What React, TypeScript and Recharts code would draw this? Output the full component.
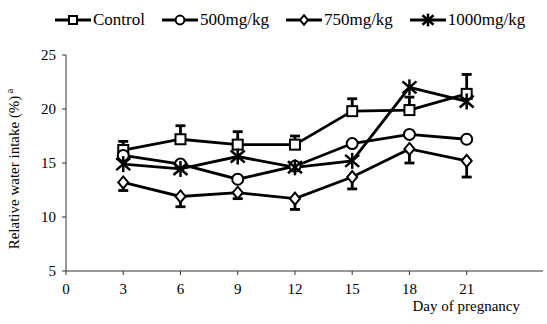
import React from 'react';
import { LineChart, Line, XAxis, YAxis, ErrorBar, Legend } from 'recharts';

const days = [3, 6, 9, 12, 15, 18, 21];
const control = [16.2, 17.2, 16.7, 16.7, 19.8, 19.9, 21.4];
const controlErr = [0.8, 1.25, 1.2, 0.8, 1.15, 1.2, 1.8];
const dose500 = [15.7, 14.9, 13.5, 14.7, 16.8, 17.65, 17.2];
const dose750 = [13.2, 11.9, 12.25, 11.7, 13.7, 16.3, 15.2];
const dose750Err = [0.75, 0.95, 0.55, 1.0, 1.1, 1.3, 1.5];
const dose1000 = [14.9, 14.45, 15.6, 14.6, 15.2, 22.0, 20.7];
const xTicks = [0, 3, 6, 9, 12, 15, 18, 21];
const yTicks = [5, 10, 15, 20, 25];

const FONT = '"Liberation Serif", "Times New Roman", serif';

const data = days.map((day, i) => ({
  day,
  control: control[i],
  controlErr: [0, controlErr[i]],
  dose500: dose500[i],
  dose750: dose750[i],
  dose750Err: [dose750Err[i], 0],
  dose1000: dose1000[i],
}));

type Shape = 'square' | 'circle' | 'diamond' | 'star';

function Marker({ shape, cx, cy, k = 1 }: { shape: Shape; cx: number; cy: number; k?: number }) {
  const s = { stroke: '#000', strokeWidth: 2, fill: '#fff' };
  if (shape === 'square') return <rect x={cx - 5 * k} y={cy - 5 * k} width={10 * k} height={10 * k} {...s} />;
  if (shape === 'circle') return <circle cx={cx} cy={cy} r={5.5 * k} {...s} />;
  if (shape === 'diamond')
    return (
      <polygon
        points={`${cx},${cy - 6 * k} ${cx + 5 * k},${cy} ${cx},${cy + 6 * k} ${cx - 5 * k},${cy}`}
        {...s}
      />
    );
  return (
    <g stroke="#000" strokeWidth={2.5}>
      <line x1={cx} y1={cy - 8 * k} x2={cx} y2={cy + 8 * k} />
      <line x1={cx - 7 * k} y1={cy - 6 * k} x2={cx + 7 * k} y2={cy + 6 * k} />
      <line x1={cx - 7 * k} y1={cy + 6 * k} x2={cx + 7 * k} y2={cy - 6 * k} />
    </g>
  );
}

const dotFor = (shape: Shape) => (props: any) => (
  <Marker key={`${shape}-${props.index}`} shape={shape} cx={props.cx} cy={props.cy} />
);

const legendItems: { label: string; shape: Shape }[] = [
  { label: 'Control', shape: 'square' },
  { label: '500mg/kg', shape: 'circle' },
  { label: '750mg/kg', shape: 'diamond' },
  { label: '1000mg/kg', shape: 'star' },
];

function ChartLegend() {
  return (
    <div style={{ display: 'flex', gap: 17, fontFamily: FONT, fontSize: 17, color: '#000', paddingLeft: 55 }}>
      {legendItems.map(item => (
        <div key={item.label} style={{ display: 'flex', alignItems: 'center' }}>
          <svg width={36} height={16}>
            <line x1={0} y1={8} x2={36} y2={8} stroke="#000" strokeWidth={3} />
            <Marker shape={item.shape} cx={18} cy={8} k={0.8} />
          </svg>
          <span style={{ marginLeft: 2 }}>{item.label}</span>
        </div>
      ))}
    </div>
  );
}

const XLabel = ({ viewBox }: any) => (
  <text
    x={viewBox.x + viewBox.width - 23}
    y={viewBox.y + 40}
    textAnchor="end"
    fontFamily={FONT}
    fontSize={15}
    fill="#000"
  >
    Day of pregnancy
  </text>
);

const YLabel = ({ viewBox }: any) => {
  const cx = 19;
  const cy = viewBox.y + viewBox.height / 2 + 6;
  return (
    <text x={cx} y={cy} transform={`rotate(-90 ${cx} ${cy})`} textAnchor="middle" fontFamily={FONT} fontSize={15} fill="#000">
      Relative water intake (%)
      <tspan dy={-6} fontSize={10}> a</tspan>
    </text>
  );
};

const tickStyle = { fontFamily: FONT, fontSize: 15, fill: '#000' };

export default function App() {
  return (
    <div style={{ position: 'absolute', left: 0, top: 0, background: '#fff' }}>
      <LineChart width={547} height={324} data={data} margin={{ top: 25, right: 4, bottom: 23, left: 16 }}>
        <Legend
          verticalAlign="top"
          align="left"
          height={30}
          content={() => <ChartLegend />}
          wrapperStyle={{ top: 10, left: 0, width: 547 }}
        />
        <XAxis
          dataKey="day"
          type="number"
          domain={[0, 25]}
          ticks={xTicks}
          allowDataOverflow
          stroke="#333"
          tickSize={4}
          tickMargin={8}
          tick={tickStyle}
          height={30}
          label={<XLabel />}
        />
        <YAxis
          domain={[5, 25]}
          ticks={yTicks}
          width={50}
          stroke="#333"
          tickSize={4}
          tickMargin={6}
          tick={tickStyle}
          label={<YLabel />}
        />
        <Line dataKey="control" stroke="#000" strokeWidth={2.8} dot={dotFor('square')} isAnimationActive={false}>
          <ErrorBar dataKey="controlErr" direction="y" width={5} stroke="#000" strokeWidth={2.8} />
        </Line>
        <Line dataKey="dose500" stroke="#000" strokeWidth={2.8} dot={dotFor('circle')} isAnimationActive={false} />
        <Line dataKey="dose750" stroke="#000" strokeWidth={2.8} dot={dotFor('diamond')} isAnimationActive={false}>
          <ErrorBar dataKey="dose750Err" direction="y" width={5} stroke="#000" strokeWidth={2.8} />
        </Line>
        <Line dataKey="dose1000" stroke="#000" strokeWidth={2.8} dot={dotFor('star')} isAnimationActive={false} />
      </LineChart>
    </div>
  );
}
